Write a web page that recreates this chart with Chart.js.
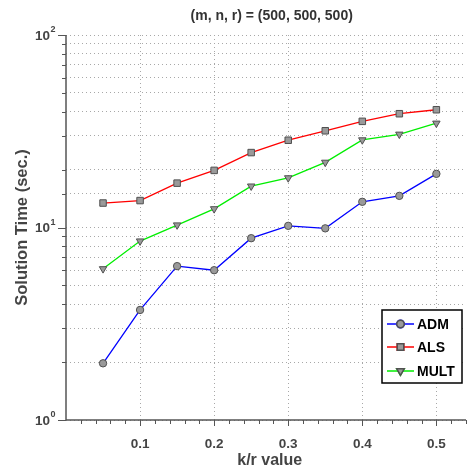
<!DOCTYPE html>
<html>
<head>
<meta charset="utf-8">
<script src="https://cdn.jsdelivr.net/npm/chart.js@4.4.1/dist/chart.umd.min.js"></script>
<style>
  html, body { margin: 0; padding: 0; background: #fff; }
  #wrap { width: 467px; height: 476px; }
</style>
</head>
<body>
<div id="wrap"><canvas id="solveTime" width="467" height="476"></canvas></div>
<script>
// k/r ratios and measured solution times (seconds)
const kRatio   = [0.05, 0.10, 0.15, 0.20, 0.25, 0.30, 0.35, 0.40, 0.45, 0.50];
const admTime  = [1.97, 3.73, 6.3, 6.0, 8.8, 10.2, 9.9, 13.6, 14.6, 19.0];
const alsTime  = [13.4, 13.8, 17.0, 19.8, 24.5, 28.4, 31.8, 35.6, 39.0, 40.9];
const multTime = [6.1, 8.5, 10.3, 12.5, 16.4, 18.1, 21.8, 28.5, 30.5, 34.8];
const xTickLabels = ['0.1', '0.2', '0.3', '0.4', '0.5'];
const yDecades = [1, 10, 100];

const FONT = '"Liberation Sans", Arial, Helvetica, sans-serif';
const AXIS_GREY = '#444';

function toPoints(vals) {
    return kRatio.map((k, i) => ({ x: k, y: vals[i] }));
}
function isDecade(v) {
    const l = Math.log10(v);
    return Math.abs(l - Math.round(l)) < 1e-9;
}
function isTenth(v) {
    return v > 0.001 && Math.abs(v * 10 - Math.round(v * 10)) < 1e-6;
}

// titles, axis lines, tick marks, 10^n labels and the boxed legend
const framePlugin = {
    id: 'frame',
    afterDraw(chart) {
        const ctx = chart.ctx;
        const a = chart.chartArea;
        const xs = chart.scales.x;
        const ys = chart.scales.y;
        const midX = (a.left + xs.getPixelForValue(0.55)) / 2;
        ctx.save();

        ctx.fillStyle = '#333';
        ctx.font = 'bold 14px ' + FONT;
        ctx.textAlign = 'center';
        ctx.textBaseline = 'middle';
        ctx.fillText('(m, n, r) = (500, 500, 500)', midX + 2, 16);
        ctx.fillStyle = AXIS_GREY;
        ctx.font = 'bold 16px ' + FONT;
        ctx.fillText('k/r value', midX, 461);

        // axes
        ctx.strokeStyle = '#555';
        ctx.lineWidth = 1.5;
        ctx.beginPath();
        ctx.moveTo(a.left, a.top);
        ctx.lineTo(a.left, a.bottom);
        ctx.lineTo(a.right, a.bottom);
        ctx.stroke();

        ctx.lineWidth = 1;
        ctx.beginPath();
        ys.ticks.forEach(t => {
            const py = Math.round(ys.getPixelForValue(t.value)) + 0.5;
            const len = isDecade(t.value) ? 8 : 4;
            ctx.moveTo(a.left - len, py);
            ctx.lineTo(a.left, py);
        });
        xs.ticks.forEach(t => {
            if (t.value <= 0) return;
            const px = Math.round(xs.getPixelForValue(t.value)) + 0.5;
            const len = isTenth(t.value) ? 6 : 4;
            ctx.moveTo(px, a.bottom);
            ctx.lineTo(px, a.bottom + len);
        });
        ctx.stroke();

        // decade labels with superscript exponent
        ctx.fillStyle = AXIS_GREY;
        yDecades.forEach(v => {
            const py = ys.getPixelForValue(v);
            ctx.font = 'bold 13.5px ' + FONT;
            ctx.textAlign = 'right';
            ctx.textBaseline = 'middle';
            ctx.fillText('10', 50, py + 1);
            ctx.font = 'bold 9px ' + FONT;
            ctx.textAlign = 'left';
            ctx.fillText(String(Math.round(Math.log10(v))), 50.5, py - 5);
        });

        // legend
        const lx = 382, ly = 310, lw = 80, lh = 73;
        ctx.fillStyle = '#fff';
        ctx.fillRect(lx, ly, lw, lh);
        ctx.strokeStyle = '#000';
        ctx.lineWidth = 1.5;
        ctx.strokeRect(lx, ly, lw, lh);
        const rows = [324, 347, 371];
        chart.data.datasets.forEach((ds, i) => {
            const ry = rows[i];
            ctx.strokeStyle = ds.borderColor;
            ctx.lineWidth = 1.5;
            ctx.beginPath();
            ctx.moveTo(387, ry);
            ctx.lineTo(414, ry);
            ctx.stroke();
            Chart.helpers.drawPoint(ctx, {
                pointStyle: ds.pointStyle,
                radius: ds.pointRadius,
                rotation: ds.pointRotation || 0,
                borderWidth: 1
            }, 400.5, ry);
            ctx.fillStyle = ds.pointBackgroundColor;
            ctx.strokeStyle = ds.pointBorderColor;
            ctx.fill();
            ctx.stroke();
            ctx.fillStyle = '#000';
            ctx.font = 'bold 14px ' + FONT;
            ctx.textAlign = 'left';
            ctx.textBaseline = 'middle';
            ctx.fillText(ds.label, 417, ry + 1);
        });
        ctx.restore();
    }
};

function series(label, color, vals, style, radius, rotation) {
    return {
        label: label,
        data: toPoints(vals),
        borderColor: color,
        borderWidth: 1.3,
        pointStyle: style,
        pointRadius: radius,
        pointRotation: rotation,
        pointBackgroundColor: '#9a9a9a',
        pointBorderColor: '#505050',
        pointBorderWidth: 1,
        tension: 0
    };
}

new Chart(document.getElementById('solveTime'), {
    type: 'line',
    data: {
        datasets: [
            series('ADM', '#0000ff', admTime, 'circle', 3.7, 0),
            series('ALS', '#ff0000', alsTime, 'rect', 4.6, 0),
            series('MULT', '#00ee00', multTime, 'triangle', 4.3, 180)
        ]
    },
    options: {
        responsive: false,
        animation: false,
        layout: { autoPadding: false, padding: { top: 35, right: 1, left: 0, bottom: 0 } },
        plugins: {
            legend: { display: false },
            tooltip: { enabled: false },
            title: { display: false }
        },
        scales: {
            x: {
                type: 'linear',
                min: 0,
                max: 0.54,
                afterFit: s => {
                    s.height = 56;
                    s.paddingLeft = 0;
                    s.paddingRight = 0;
                },
                afterBuildTicks: s => {
                    const t = [];
                    for (let i = 0; i <= 27; i++) t.push({ value: i * 0.02 });
                    s.ticks = t;
                },
                ticks: {
                    autoSkip: false,
                    maxRotation: 0,
                    padding: 16,
                    color: AXIS_GREY,
                    font: { family: FONT, size: 13.5, weight: 'bold' },
                    callback: v => isTenth(v) ? xTickLabels[Math.round(v * 10) - 1] : ''
                },
                grid: {
                    drawTicks: false,
                    lineWidth: 1,
                    color: c => (c.tick && isTenth(c.tick.value)) ? '#a8a8a8' : 'rgba(0,0,0,0)'
                },
                border: { display: false, dash: [1, 3] }
            },
            y: {
                type: 'logarithmic',
                min: 1,
                max: 100,
                afterFit: s => {
                    s.width = 66;
                    s.paddingTop = 0;
                    s.paddingBottom = 0;
                },
                ticks: {
                    autoSkip: false,
                    callback: () => ''
                },
                grid: {
                    drawTicks: false,
                    lineWidth: 1,
                    color: '#a8a8a8'
                },
                border: { display: false, dash: [1, 3] },
                title: {
                    display: true,
                    text: 'Solution Time (sec.)',
                    color: AXIS_GREY,
                    font: { family: FONT, size: 16.5, weight: 'bold' },
                    padding: { top: 13, bottom: 0 }
                }
            }
        }
    },
    plugins: [framePlugin]
});
</script>
</body>
</html>
